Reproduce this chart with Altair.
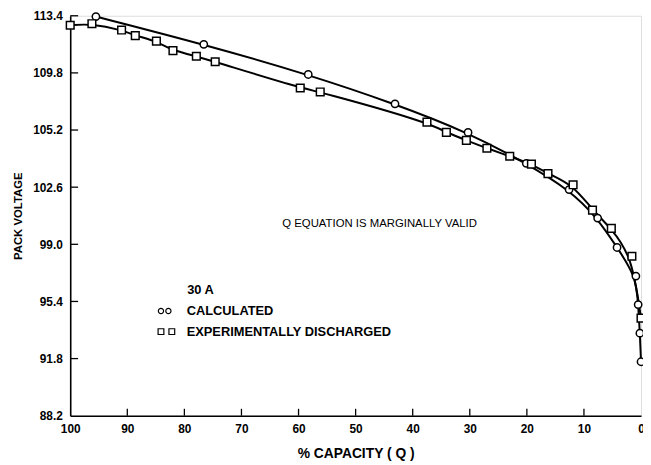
import altair as alt
import pandas as pd

# ---- data ----
calc_x = [95.5, 76.6, 58.3, 43.1, 30.3, 20.1, 12.6, 7.6, 4.2, 0.9, 0.5, 0.2, 0.0]
calc_y = [113.35, 111.6, 109.7, 107.85, 106.05, 104.1, 102.45, 100.65, 98.8, 97.0, 95.2, 93.4, 91.6]

exp_x = [100.0, 96.2, 91.0, 88.6, 84.9, 82.0, 77.9, 74.6, 59.7, 56.2, 37.5, 34.1,
         30.6, 27.0, 23.0, 19.2, 16.3, 11.9, 8.5, 5.2, 1.6, 0.0]
exp_y = [112.8, 112.9, 112.5, 112.15, 111.8, 111.2, 110.85, 110.5, 108.85, 108.6, 106.7, 106.05,
         105.55, 105.05, 104.55, 104.05, 103.45, 102.75, 101.15, 100.0, 98.25, 94.35]

x_tick_values = [0, 10, 20, 30, 40, 50, 60, 70, 80, 90, 100]
y_tick_values = [88.2, 91.8, 95.4, 99.0, 102.6, 106.2, 109.8, 113.4]
y_tick_labels = ["88.2", "91.8", "95.4", "99.0", "102.6", "105.2", "109.8", "113.4"]

# annotations (data coordinates)
note_text = ["Q EQUATION IS MARGINALLY VALID"]
note_x = [45.8]
note_y = [100.27]
legend_text = ["30 A", "CALCULATED", "EXPERIMENTALLY DISCHARGED"]
legend_tx = [79.5, 79.6, 79.6]
legend_ty = [96.1, 94.8, 93.5]
legend_circ_x = [84.1, 82.8]
legend_circ_y = [94.8, 94.8]
legend_sq_x = [84.1, 82.2]
legend_sq_y = [93.5, 93.5]

W, H = 578, 405
FONT = "Liberation Sans"

calc = pd.DataFrame({"x": calc_x, "y": calc_y, "i": range(len(calc_x))})
exp = pd.DataFrame({"x": exp_x, "y": exp_y, "i": range(len(exp_x))})

label_expr = " : ".join(
    [f"abs(datum.value - {v}) < 0.01 ? '{l}'" for v, l in zip(y_tick_values, y_tick_labels)]
) + " : ''"

xs = alt.Scale(domain=[0, 100], reverse=True, nice=False)
ys = alt.Scale(domain=[88.2, 113.4], nice=False, zero=False)

X = alt.X("x:Q", scale=xs, axis=alt.Axis(
    values=x_tick_values, title="% CAPACITY ( Q )", tickSize=0, labelPadding=8,
    titlePadding=12, grid=False, domainColor="black", domainWidth=1.6,
    labelFont=FONT, labelFontSize=12, labelFontWeight="bold", labelColor="black",
    titleFont=FONT, titleFontSize=14, titleFontWeight="bold", titleColor="black",
    labelFlush=False))
Y = alt.Y("y:Q", scale=ys, axis=alt.Axis(
    values=y_tick_values, labelExpr=label_expr, title="PACK VOLTAGE", tickSize=0,
    labelPadding=8, titlePadding=9, grid=False, domainColor="black", domainWidth=1.6,
    labelFont=FONT, labelFontSize=12, labelFontWeight="bold", labelColor="black",
    titleFont=FONT, titleFontSize=11.5, titleFontWeight="bold", titleColor="black"))

calc_line = alt.Chart(calc).mark_line(color="black", strokeWidth=2, interpolate="basis").encode(
    x=X, y=Y, order="i:Q")
exp_line = alt.Chart(exp).mark_line(color="black", strokeWidth=2, interpolate="basis").encode(
    x="x:Q", y="y:Q", order="i:Q")
calc_pts = alt.Chart(calc).mark_point(shape="circle", size=55, filled=True, fill="white",
                                      stroke="black", strokeWidth=1.5, opacity=1).encode(x="x:Q", y="y:Q")
exp_pts = alt.Chart(exp).mark_point(shape="square", size=60, filled=True, fill="white",
                                    stroke="black", strokeWidth=1.5, opacity=1).encode(x="x:Q", y="y:Q")

xt = pd.DataFrame({"v": [v for v in x_tick_values if 0 < v < 100]})
x_ticks = alt.Chart(xt).mark_rule(color="black", strokeWidth=1.3).encode(
    x="v:Q", y=alt.value(H), y2=alt.value(H - 7))
yt = pd.DataFrame({"v": y_tick_values[1:]})
y_ticks = alt.Chart(yt).mark_rule(color="black", strokeWidth=1.3).encode(
    y="v:Q", x=alt.value(0), x2=alt.value(8))

note = alt.Chart(pd.DataFrame({"t": note_text, "x": note_x, "y": note_y})).mark_text(
    font=FONT, fontSize=11.5, color="black", align="center", baseline="middle").encode(
    x="x:Q", y="y:Q", text="t:N")
leg_txt = alt.Chart(pd.DataFrame({"t": legend_text, "x": legend_tx, "y": legend_ty})).mark_text(
    font=FONT, fontSize=13, fontWeight="bold", color="black", align="left", baseline="middle").encode(
    x="x:Q", y="y:Q", text="t:N")
leg_c = alt.Chart(pd.DataFrame({"x": legend_circ_x, "y": legend_circ_y})).mark_point(
    shape="circle", size=28, filled=True, fill="white", stroke="black", strokeWidth=1.2,
    opacity=1).encode(x="x:Q", y="y:Q")
leg_s = alt.Chart(pd.DataFrame({"x": legend_sq_x, "y": legend_sq_y})).mark_point(
    shape="square", size=34, filled=True, fill="white", stroke="black", strokeWidth=1.2,
    opacity=1).encode(x="x:Q", y="y:Q")

chart = alt.layer(calc_line, exp_line, x_ticks, y_ticks, calc_pts, exp_pts,
                  note, leg_txt, leg_c, leg_s).properties(
    width=W, height=H,
    autosize=alt.AutoSizeParams(type="none"),
    padding={"left": 63, "top": 5, "right": 2, "bottom": 44},
).configure_view(stroke=None).configure(background="white")

chart.save("out.html", embed_options={"renderer": "svg", "actions": False})
